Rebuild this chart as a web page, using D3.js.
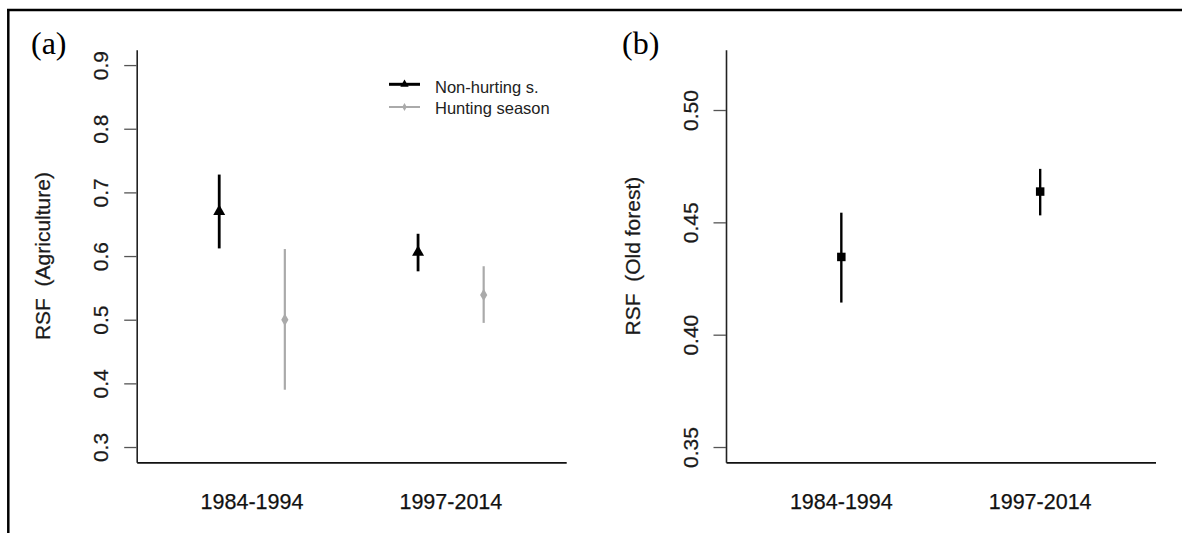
<!DOCTYPE html>
<html>
<head>
<meta charset="utf-8">
<script src="https://cdn.jsdelivr.net/npm/d3@7"></script>
<style>
  html, body { margin: 0; padding: 0; background: #fff; }
  svg { display: block; }
  text { font-family: "Liberation Sans", Arial, sans-serif; fill: #111; }
</style>
</head>
<body>
<svg id="chart" width="1182" height="533"></svg>
<script>
// ---------- data ----------
const categories = ["1984-1994", "1997-2014"];
const seriesNames = ["Non-hurting s.", "Hunting season"];

// Panel (a): RSF (Agriculture)
const agriNonHunt    = [0.670, 0.606];
const agriNonHuntLo  = [0.612, 0.576];
const agriNonHuntHi  = [0.728, 0.635];
const agriHunt       = [0.500, 0.539];
const agriHuntLo     = [0.390, 0.495];
const agriHuntHi     = [0.611, 0.584];
const agriTicks      = [0.3, 0.4, 0.5, 0.6, 0.7, 0.8, 0.9];

// Panel (b): RSF (Old forest)
const forest    = [0.4346, 0.4637];
const forestLo  = [0.4143, 0.4531];
const forestHi  = [0.4543, 0.4738];
const forestTicks = [0.35, 0.40, 0.45, 0.50];

// ---------- drawing ----------
const svg = d3.select("#chart");
svg.append("rect").attr("width", 1182).attr("height", 533).attr("fill", "#fff");

// frame (table cell borders)
svg.append("line").attr("x1", 7).attr("x2", 1182).attr("y1", 10).attr("y2", 10)
  .attr("stroke", "#000").attr("stroke-width", 2.5);
svg.append("line").attr("x1", 8.3).attr("x2", 8.3).attr("y1", 9).attr("y2", 533)
  .attr("stroke", "#000").attr("stroke-width", 2.5);

const PLOT_W = 429.5, TOP = 49.8, BOTTOM = 462.3;

function panel(opts) {
  const g = svg.append("g");
  const x = d3.scaleLinear().domain([0.42, 2.58]).range([opts.left, opts.left + PLOT_W]);
  const y = d3.scaleLinear().domain(opts.yDomain).range([BOTTOM, TOP]);

  // y axis
  const ya = g.append("g").attr("transform", `translate(${opts.left},0)`)
    .call(d3.axisLeft(y).tickValues(opts.ticks).tickFormat(d3.format(opts.fmt))
      .tickSize(12.5).tickSizeOuter(0));
  ya.select(".domain").attr("stroke", "#222").attr("stroke-width", 1.6);
  ya.selectAll(".tick line").attr("stroke", "#555").attr("stroke-width", 1.3);
  ya.selectAll(".tick text")
    .attr("x", null).attr("dy", null)
    .attr("transform", "translate(-28.5,0) rotate(-90)")
    .attr("text-anchor", "middle")
    .style("font-size", "21px").style("fill", "#1a1a1a")
    .style("stroke", "#1a1a1a").style("stroke-width", "0.25px");

  // x axis (line only, labels below)
  const xa = g.append("g").attr("transform", `translate(0,${BOTTOM})`)
    .call(d3.axisBottom(x).tickValues([]).tickSizeOuter(0));
  xa.select(".domain").attr("stroke", "#111").attr("stroke-width", 1.8);
  g.selectAll(".xlab").data(categories).join("text")
    .attr("class", "xlab")
    .attr("x", (d, i) => x(i + 1))
    .attr("y", 509)
    .attr("text-anchor", "middle")
    .style("font-size", "21.5px")
    .style("stroke", "#111").style("stroke-width", "0.25px")
    .text(d => d);

  // y title
  g.append("text")
    .attr("transform", `translate(${opts.left - 86.5},${(TOP + BOTTOM) / 2}) rotate(-90)`)
    .attr("text-anchor", "middle")
    .style("font-size", "21px").style("fill", "#1a1a1a")
    .style("stroke", "#1a1a1a").style("stroke-width", "0.25px")
    .style("white-space", "pre")
    .text(opts.title);

  // panel letter
  g.append("text")
    .attr("x", opts.letterX).attr("y", 54)
    .style("font-family", "'Liberation Serif', 'DejaVu Serif', serif")
    .style("font-size", "32px").style("fill", "#000")
    .text(opts.letter);

  return { g, x, y };
}

// ---- Panel (a)
const A = panel({ left: 136.7, yDomain: [0.276, 0.924], ticks: agriTicks, fmt: ".1f",
  title: "RSF  (Agriculture)", letter: "(a)", letterX: 31 });

const off = 0.165;
const aData = [
  { name: seriesNames[0], vals: agriNonHunt, lo: agriNonHuntLo, hi: agriNonHuntHi, dx: -off,
    color: "#000", width: 2.8, sym: d3.symbolTriangle, size: 62 },
  { name: seriesNames[1], vals: agriHunt, lo: agriHuntLo, hi: agriHuntHi, dx: off,
    color: "#aaaaaa", width: 2.2, sym: d3.symbolDiamond, size: 45 }
];
aData.forEach(s => {
  const idx = d3.range(categories.length);
  A.g.selectAll(null).data(idx).join("line")
    .attr("x1", i => A.x(i + 1 + s.dx)).attr("x2", i => A.x(i + 1 + s.dx))
    .attr("y1", i => A.y(s.lo[i])).attr("y2", i => A.y(s.hi[i]))
    .attr("stroke", s.color).attr("stroke-width", s.width);
  A.g.selectAll(null).data(idx).join("path")
    .attr("d", d3.symbol().type(s.sym).size(s.size))
    .attr("transform", i => `translate(${A.x(i + 1 + s.dx)},${A.y(s.vals[i])})`)
    .attr("fill", s.color);
});

// legend
const legY = [84.3, 107];
aData.forEach((s, k) => {
  A.g.append("line").attr("x1", 389).attr("x2", 420).attr("y1", legY[k]).attr("y2", legY[k])
    .attr("stroke", s.color).attr("stroke-width", k === 0 ? 3 : 2);
  A.g.append("path").attr("d", d3.symbol().type(s.sym).size(k === 0 ? 30 : 18))
    .attr("transform", `translate(404.5,${legY[k]})`).attr("fill", s.color);
  A.g.append("text").attr("x", 435).attr("y", legY[k] + (k === 0 ? 3.4 : 1)).attr("dy", "0.35em")
    .style("font-size", "16.5px").style("fill", "#222").text(s.name);
});

// ---- Panel (b)
const B = panel({ left: 726, yDomain: [0.3432, 0.5268], ticks: forestTicks, fmt: ".2f",
  title: "RSF  (Old forest)", letter: "(b)", letterX: 622 });

const bIdx = d3.range(categories.length);
B.g.selectAll(null).data(bIdx).join("line")
  .attr("x1", i => B.x(i + 1)).attr("x2", i => B.x(i + 1))
  .attr("y1", i => B.y(forestLo[i])).attr("y2", i => B.y(forestHi[i]))
  .attr("stroke", "#000").attr("stroke-width", 2.4);
B.g.selectAll(null).data(bIdx).join("path")
  .attr("d", d3.symbol().type(d3.symbolSquare).size(72))
  .attr("transform", i => `translate(${B.x(i + 1)},${B.y(forest[i])})`)
  .attr("fill", "#000");
</script>
</body>
</html>
